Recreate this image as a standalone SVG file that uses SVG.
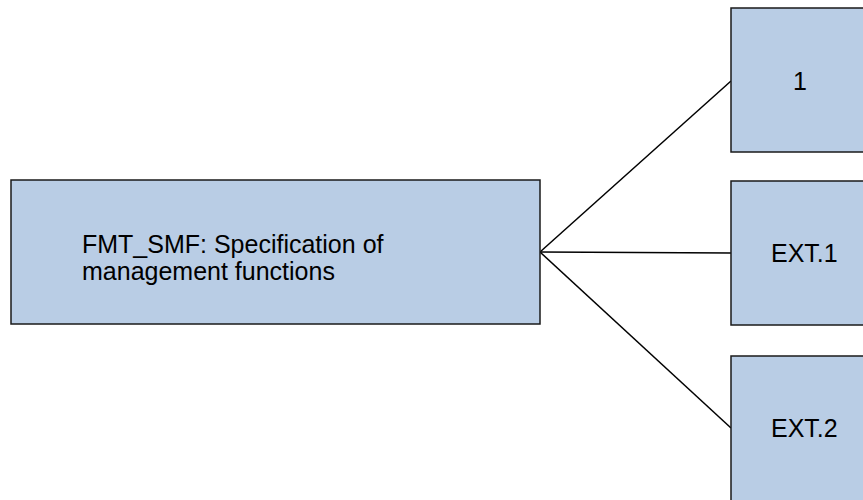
<svg xmlns="http://www.w3.org/2000/svg" width="863" height="500" viewBox="0 0 863 500">
<style>
.box{fill:#b9cde5;stroke:#1a1a1a;stroke-width:1.5}
.lbl{font-family:"Liberation Sans",Arial,sans-serif;font-size:25px;fill:#000}
.conn{stroke:#000;stroke-width:1.5;fill:none}
</style>
<rect width="863" height="500" fill="#fff"/>
<g id="connectors">
<line class="conn" x1="540" y1="252" x2="731" y2="81"/>
<line class="conn" x1="540" y1="252" x2="731" y2="253"/>
<line class="conn" x1="540" y1="252" x2="731" y2="428"/>
</g>
<g id="node-fmt-smf">
<rect class="box" x="11" y="180" width="529" height="144"/>
<text class="lbl" x="82" y="253">FMT_SMF: Specification of</text>
<text class="lbl" x="82" y="280">management functions</text>
</g>
<g id="node-1">
<rect class="box" x="731" y="8" width="140" height="144"/>
<text class="lbl" x="800" y="90" text-anchor="middle">1</text>
</g>
<g id="node-ext1">
<rect class="box" x="731" y="181" width="140" height="144"/>
<text class="lbl" x="771" y="262">EXT.1</text>
</g>
<g id="node-ext2">
<rect class="box" x="731" y="356" width="140" height="146"/>
<text class="lbl" x="771" y="437">EXT.2</text>
</g>
</svg>
